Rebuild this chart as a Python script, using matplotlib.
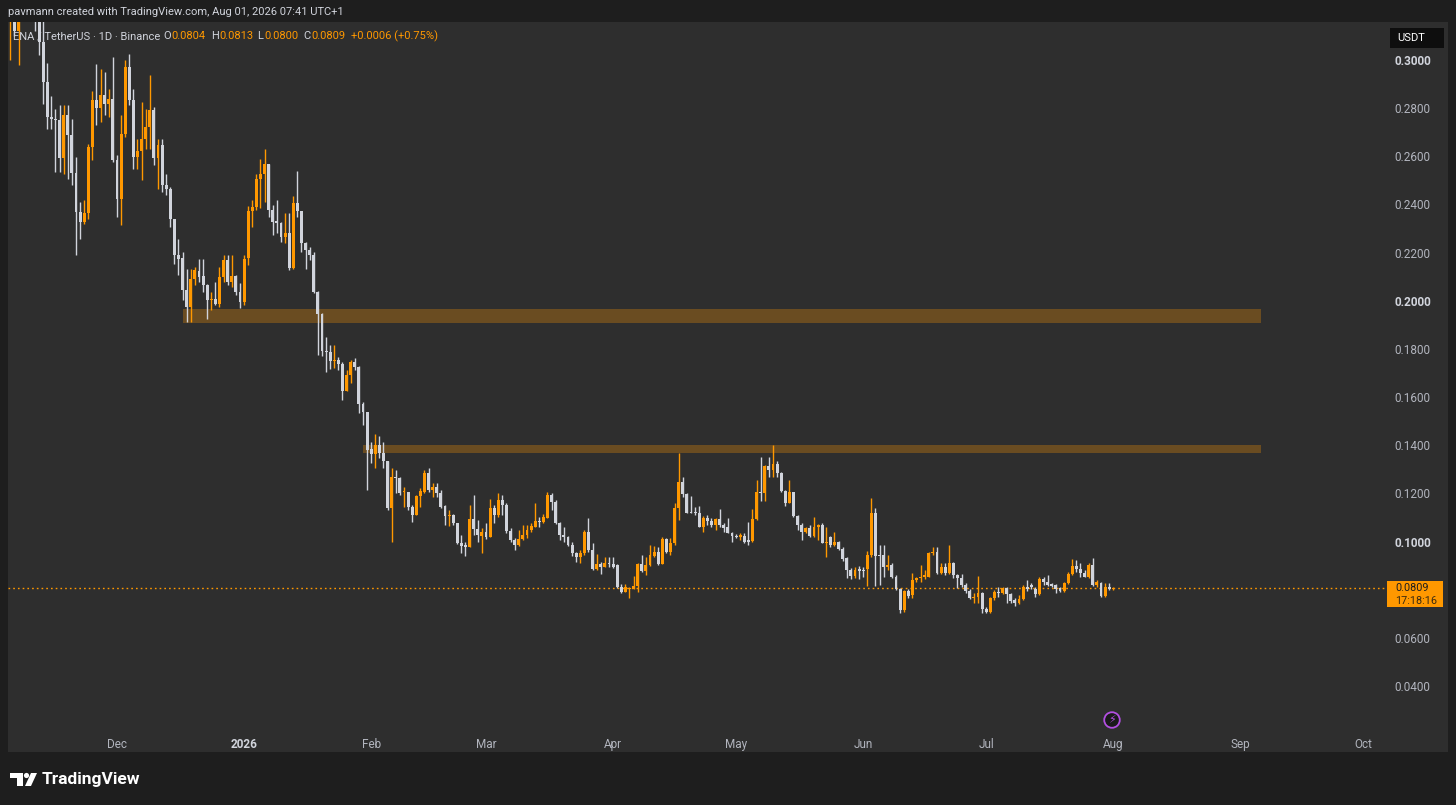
import matplotlib
matplotlib.use("Agg")
import matplotlib.pyplot as plt
import matplotlib.dates as mdates
from matplotlib.patches import Rectangle, Polygon, Circle
from matplotlib.transforms import IdentityTransform
import numpy as np
import pandas as pd

plt.rcParams['font.family'] = ['Roboto', 'DejaVu Sans']

# ENA/USDT daily candles (Nov 05 2025 .. Aug 01 2026)
first_day = "2025-11-05"

opens = [
    0.320, 0.335, 0.312, 0.332, 0.325, 0.338, 0.332, 0.318, 0.3075, 0.2909,
    0.2763, 0.2754, 0.2749, 0.2593, 0.2773, 0.2687, 0.2532, 0.2369, 0.2327, 0.2366,
    0.2639, 0.2833, 0.2801, 0.2856, 0.2819, 0.2837, 0.2583, 0.2424, 0.2694, 0.2971,
    0.2833, 0.2597, 0.2621, 0.2673, 0.2722, 0.2791, 0.2593, 0.2646, 0.2480, 0.2466,
    0.2341, 0.2189, 0.2179, 0.2043, 0.1974, 0.2092, 0.2122, 0.2102, 0.2064, 0.2002,
    0.2009, 0.1988, 0.2099, 0.2168, 0.2080, 0.2103, 0.2037, 0.1995, 0.2176, 0.2373,
    0.2391, 0.2504, 0.2525, 0.2568, 0.2377, 0.2331, 0.2325, 0.2266, 0.2280, 0.2135,
    0.2405, 0.2374, 0.2241, 0.2211, 0.2190, 0.2038, 0.1945, 0.1793, 0.1787, 0.1750,
    0.1754, 0.1738, 0.1627, 0.1692, 0.1747, 0.1727, 0.1571, 0.1540, 0.1383, 0.1364,
    0.1401, 0.1369, 0.1335, 0.1138, 0.1270, 0.1263, 0.1207, 0.1205, 0.1145, 0.1110,
    0.1189, 0.1207, 0.1284, 0.1214, 0.1228, 0.1203, 0.1148, 0.1106, 0.1110, 0.1076,
    0.0996, 0.0985, 0.0976, 0.1092, 0.1051, 0.1023, 0.1041, 0.1018, 0.1138, 0.1110,
    0.1173, 0.1152, 0.1044, 0.1006, 0.0986, 0.1009, 0.1027, 0.1048, 0.1062, 0.1087,
    0.1082, 0.1100, 0.1194, 0.1166, 0.1079, 0.1027, 0.1018, 0.0986, 0.0951, 0.0935,
    0.0951, 0.1041, 0.0965, 0.0885, 0.0907, 0.0896, 0.0913, 0.0907, 0.0902, 0.0813,
    0.0792, 0.0802, 0.0802, 0.0816, 0.0907, 0.0879, 0.0902, 0.0940, 0.0958, 0.0907,
    0.1009, 0.0958, 0.0993, 0.1138, 0.1249, 0.1196, 0.1124, 0.1124, 0.1117, 0.1062,
    0.1097, 0.1087, 0.1069, 0.1093, 0.1069, 0.1059, 0.1037, 0.1023, 0.1018, 0.1023,
    0.1006, 0.1003, 0.1093, 0.1207, 0.1200, 0.1314, 0.1297, 0.1322, 0.1286, 0.1211,
    0.1162, 0.1207, 0.1106, 0.1069, 0.1041, 0.1055, 0.1023, 0.1059, 0.1069, 0.0996,
    0.1020, 0.0986, 0.1000, 0.0968, 0.0930, 0.0882, 0.0857, 0.0885, 0.0882, 0.0888,
    0.0944, 0.1117, 0.0944, 0.0944, 0.0896, 0.0903, 0.0854, 0.0802, 0.0716, 0.0796,
    0.0778, 0.0841, 0.0847, 0.0854, 0.0854, 0.0951, 0.0958, 0.0868, 0.0896, 0.0868,
    0.0910, 0.0861, 0.0847, 0.0820, 0.0796, 0.0764, 0.0771, 0.0785, 0.0719, 0.0709,
    0.0764, 0.0792, 0.0788, 0.0806, 0.0782, 0.0758, 0.0744, 0.0760, 0.0810, 0.0820,
    0.0802, 0.0782, 0.0844, 0.0834, 0.0823, 0.0820, 0.0806, 0.0796, 0.0827, 0.0865,
    0.0899, 0.0885, 0.0871, 0.0854, 0.0903, 0.0820, 0.0830, 0.0775, 0.0810, 0.0804,
]
highs = [
    0.340, 0.345, 0.338, 0.342, 0.345, 0.350, 0.340, 0.330, 0.320, 0.2986,
    0.2850, 0.2798, 0.2812, 0.2812, 0.2812, 0.2757, 0.2597, 0.2411, 0.2417, 0.2653,
    0.2870, 0.2985, 0.2964, 0.2950, 0.2881, 0.3013, 0.2604, 0.2770, 0.2999, 0.3026,
    0.2881, 0.2673, 0.2826, 0.2798, 0.2937, 0.2805, 0.2673, 0.2673, 0.2528, 0.2473,
    0.2341, 0.2258, 0.2203, 0.2133, 0.2133, 0.2140, 0.2175, 0.2172, 0.2071, 0.2037,
    0.2078, 0.2140, 0.2189, 0.2189, 0.2190, 0.2106, 0.2072, 0.2190, 0.2394, 0.2419,
    0.2525, 0.2589, 0.2629, 0.2568, 0.2398, 0.2419, 0.2329, 0.2363, 0.2363, 0.2435,
    0.2540, 0.2374, 0.2245, 0.2225, 0.2204, 0.2042, 0.1948, 0.1851, 0.1816, 0.1816,
    0.1768, 0.1747, 0.1713, 0.1754, 0.1761, 0.1730, 0.1581, 0.1540, 0.1415, 0.1447,
    0.1439, 0.1415, 0.1336, 0.1304, 0.1297, 0.1267, 0.1228, 0.1207, 0.1152, 0.1194,
    0.1221, 0.1297, 0.1304, 0.1245, 0.1242, 0.1214, 0.1152, 0.1131, 0.1114, 0.1079,
    0.1027, 0.1000, 0.1152, 0.1194, 0.1090, 0.1055, 0.1079, 0.1175, 0.1152, 0.1200,
    0.1194, 0.1162, 0.1055, 0.1013, 0.1048, 0.1069, 0.1069, 0.1076, 0.1162, 0.1103,
    0.1114, 0.1205, 0.1203, 0.1173, 0.1083, 0.1062, 0.1023, 0.1000, 0.0958, 0.0965,
    0.1048, 0.1097, 0.0993, 0.0948, 0.0916, 0.0937, 0.0937, 0.0934, 0.0907, 0.0824,
    0.0824, 0.0813, 0.0857, 0.0913, 0.0944, 0.0937, 0.0986, 0.0982, 0.0979, 0.1018,
    0.1013, 0.1013, 0.1159, 0.1366, 0.1267, 0.1200, 0.1189, 0.1145, 0.1148, 0.1106,
    0.1110, 0.1097, 0.1100, 0.1134, 0.1076, 0.1097, 0.1041, 0.1031, 0.1034, 0.1034,
    0.1083, 0.1134, 0.1256, 0.1353, 0.1318, 0.1353, 0.1401, 0.1336, 0.1290, 0.1214,
    0.1256, 0.1207, 0.1110, 0.1076, 0.1062, 0.1069, 0.1101, 0.1073, 0.1076, 0.1062,
    0.1023, 0.1041, 0.1003, 0.0976, 0.0934, 0.0889, 0.0896, 0.0899, 0.0896, 0.0962,
    0.1180, 0.1138, 0.0986, 0.0986, 0.0944, 0.0910, 0.0861, 0.0806, 0.0799, 0.0802,
    0.0868, 0.0854, 0.0903, 0.0882, 0.0958, 0.0979, 0.0979, 0.0910, 0.0910, 0.0986,
    0.0917, 0.0865, 0.0865, 0.0827, 0.0802, 0.0785, 0.0857, 0.0792, 0.0730, 0.0771,
    0.0799, 0.0813, 0.0813, 0.0810, 0.0788, 0.0764, 0.0778, 0.0820, 0.0841, 0.0827,
    0.0813, 0.0854, 0.0854, 0.0861, 0.0827, 0.0823, 0.0810, 0.0834, 0.0875, 0.0927,
    0.0924, 0.0910, 0.0882, 0.0910, 0.0930, 0.0841, 0.0834, 0.0827, 0.0827, 0.0813,
]
lows = [
    0.300, 0.310, 0.298, 0.318, 0.320, 0.328, 0.312, 0.302, 0.2819, 0.2715,
    0.2715, 0.2535, 0.2535, 0.2528, 0.2507, 0.2480, 0.2189, 0.2258, 0.2320, 0.2341,
    0.2583, 0.2729, 0.2743, 0.2770, 0.2763, 0.2576, 0.2348, 0.2313, 0.2680, 0.2812,
    0.2549, 0.2549, 0.2500, 0.2632, 0.2632, 0.2563, 0.2466, 0.2452, 0.2438, 0.2307,
    0.2154, 0.2106, 0.2002, 0.1912, 0.1912, 0.2064, 0.2078, 0.2037, 0.1926, 0.1960,
    0.1981, 0.1974, 0.2078, 0.2064, 0.2059, 0.2023, 0.1969, 0.1981, 0.2149, 0.2305,
    0.2377, 0.2384, 0.2409, 0.2349, 0.2273, 0.2280, 0.2246, 0.2239, 0.2128, 0.2131,
    0.2349, 0.2204, 0.2131, 0.2169, 0.2031, 0.1775, 0.1771, 0.1706, 0.1715, 0.1719,
    0.1713, 0.1588, 0.1627, 0.1657, 0.1713, 0.1533, 0.1484, 0.1215, 0.1325, 0.1304,
    0.1346, 0.1304, 0.1131, 0.1000, 0.1200, 0.1194, 0.1145, 0.1131, 0.1083, 0.1110,
    0.1145, 0.1200, 0.1207, 0.1184, 0.1184, 0.1138, 0.1069, 0.1065, 0.1069, 0.0990,
    0.0954, 0.0940, 0.0976, 0.1027, 0.0999, 0.0951, 0.1009, 0.1018, 0.1076, 0.1103,
    0.1110, 0.1037, 0.0999, 0.0965, 0.0982, 0.1006, 0.1013, 0.1041, 0.1059, 0.1059,
    0.1076, 0.1097, 0.1131, 0.1073, 0.1006, 0.0999, 0.0982, 0.0940, 0.0917, 0.0912,
    0.0944, 0.0958, 0.0882, 0.0882, 0.0865, 0.0896, 0.0893, 0.0889, 0.0806, 0.0785,
    0.0792, 0.0765, 0.0802, 0.0792, 0.0875, 0.0861, 0.0899, 0.0937, 0.0903, 0.0907,
    0.0951, 0.0944, 0.0986, 0.1090, 0.1187, 0.1117, 0.1117, 0.1110, 0.1059, 0.1041,
    0.1069, 0.1062, 0.1048, 0.1062, 0.1041, 0.1034, 0.0999, 0.1013, 0.1006, 0.0996,
    0.0986, 0.0999, 0.1090, 0.1170, 0.1170, 0.1270, 0.1267, 0.1270, 0.1207, 0.1148,
    0.1159, 0.1101, 0.1048, 0.1006, 0.1037, 0.1020, 0.1020, 0.1006, 0.0993, 0.0937,
    0.0979, 0.0982, 0.0965, 0.0921, 0.0847, 0.0843, 0.0847, 0.0843, 0.0854, 0.0816,
    0.0937, 0.0816, 0.0820, 0.0854, 0.0882, 0.0847, 0.0799, 0.0702, 0.0709, 0.0764,
    0.0764, 0.0834, 0.0834, 0.0843, 0.0852, 0.0944, 0.0865, 0.0865, 0.0861, 0.0865,
    0.0847, 0.0806, 0.0813, 0.0785, 0.0760, 0.0747, 0.0744, 0.0702, 0.0705, 0.0705,
    0.0758, 0.0768, 0.0782, 0.0747, 0.0744, 0.0733, 0.0741, 0.0757, 0.0796, 0.0802,
    0.0771, 0.0778, 0.0820, 0.0816, 0.0810, 0.0788, 0.0792, 0.0792, 0.0824, 0.0861,
    0.0875, 0.0851, 0.0851, 0.0847, 0.0816, 0.0813, 0.0771, 0.0771, 0.0799, 0.0800,
]
closes = [
    0.335, 0.312, 0.332, 0.325, 0.338, 0.332, 0.318, 0.3075, 0.2909, 0.2763,
    0.2754, 0.2750, 0.2593, 0.2773, 0.2687, 0.2532, 0.2369, 0.2327, 0.2366, 0.2639,
    0.2833, 0.2801, 0.2856, 0.2819, 0.2837, 0.2583, 0.2424, 0.2694, 0.2971, 0.2833,
    0.2597, 0.2621, 0.2673, 0.2722, 0.2791, 0.2593, 0.2646, 0.2480, 0.2466, 0.2341,
    0.2189, 0.2175, 0.2043, 0.1974, 0.2092, 0.2127, 0.2099, 0.2064, 0.2002, 0.2009,
    0.1988, 0.2099, 0.2168, 0.2078, 0.2103, 0.2037, 0.1995, 0.2175, 0.2373, 0.2391,
    0.2504, 0.2525, 0.2568, 0.2377, 0.2329, 0.2325, 0.2266, 0.2280, 0.2135, 0.2405,
    0.2374, 0.2241, 0.2211, 0.2190, 0.2038, 0.1945, 0.1793, 0.1787, 0.1750, 0.1754,
    0.1738, 0.1627, 0.1692, 0.1747, 0.1727, 0.1571, 0.1540, 0.1380, 0.1364, 0.1401,
    0.1369, 0.1335, 0.1138, 0.1270, 0.1263, 0.1201, 0.1210, 0.1145, 0.1110, 0.1189,
    0.1212, 0.1284, 0.1214, 0.1228, 0.1203, 0.1145, 0.1106, 0.1110, 0.1076, 0.0996,
    0.0982, 0.0979, 0.1092, 0.1051, 0.1027, 0.1041, 0.1018, 0.1138, 0.1110, 0.1173,
    0.1152, 0.1044, 0.1006, 0.0986, 0.1009, 0.1027, 0.1048, 0.1065, 0.1087, 0.1082,
    0.1103, 0.1194, 0.1166, 0.1079, 0.1027, 0.1018, 0.0986, 0.0951, 0.0935, 0.0951,
    0.1041, 0.0965, 0.0885, 0.0907, 0.0896, 0.0913, 0.0907, 0.0896, 0.0813, 0.0792,
    0.0812, 0.0806, 0.0816, 0.0907, 0.0879, 0.0902, 0.0944, 0.0958, 0.0907, 0.1009,
    0.0958, 0.0993, 0.1138, 0.1249, 0.1196, 0.1120, 0.1120, 0.1117, 0.1062, 0.1097,
    0.1087, 0.1069, 0.1093, 0.1069, 0.1055, 0.1037, 0.1023, 0.1018, 0.1027, 0.0999,
    0.0999, 0.1093, 0.1207, 0.1200, 0.1314, 0.1297, 0.1322, 0.1286, 0.1211, 0.1162,
    0.1207, 0.1106, 0.1069, 0.1041, 0.1055, 0.1023, 0.1059, 0.1069, 0.0996, 0.0999,
    0.0986, 0.1000, 0.0968, 0.0926, 0.0882, 0.0857, 0.0882, 0.0879, 0.0879, 0.0944,
    0.1117, 0.0940, 0.0940, 0.0896, 0.0903, 0.0854, 0.0802, 0.0716, 0.0796, 0.0775,
    0.0841, 0.0847, 0.0854, 0.0861, 0.0951, 0.0958, 0.0868, 0.0896, 0.0868, 0.0910,
    0.0861, 0.0847, 0.0820, 0.0796, 0.0764, 0.0771, 0.0785, 0.0719, 0.0709, 0.0764,
    0.0792, 0.0785, 0.0806, 0.0782, 0.0755, 0.0744, 0.0760, 0.0813, 0.0802, 0.0813,
    0.0782, 0.0844, 0.0834, 0.0820, 0.0816, 0.0802, 0.0796, 0.0827, 0.0865, 0.0899,
    0.0885, 0.0871, 0.0854, 0.0903, 0.0820, 0.0834, 0.0775, 0.0810, 0.0803, 0.0809,
]

month_ticks = ["2025-12-01", "2026-01-01", "2026-02-01", "2026-03-01", "2026-04-01",
               "2026-05-01", "2026-06-01", "2026-07-01", "2026-08-01", "2026-09-01",
               "2026-10-01"]
month_labels = ["Dec", "2026", "Feb", "Mar", "Apr", "May", "Jun", "Jul", "Aug", "Sep", "Oct"]
# 0.0800 is hidden behind the last-price label on the scale
price_ticks = [0.04, 0.06, 0.10, 0.12, 0.14, 0.16, 0.18, 0.20, 0.22, 0.24,
               0.26, 0.28, 0.30]

# the two drawn supply/resistance zones
zone_bottoms = [0.1908, 0.1368]
zone_tops = [0.1966, 0.1401]
zone_starts = ["2025-12-17", "2026-01-30"]
zone_ends = ["2026-09-06", "2026-09-06"]

countdown = "17:18:16"
header = "pavmann created with TradingView.com, Aug 01, 2026 07:41 UTC+1"
symbol = "ENA / TetherUS \u00b7 1D \u00b7 Binance"

UP = '#ff9800'
DOWN = '#d1d4dc'
BG = '#1e1e1e'
PANEL = '#2e2e2e'
TXT = '#b2b5be'

W, H = 1456, 805
fig = plt.figure(figsize=(W / 100, H / 100), dpi=100, facecolor=BG)


def fx(px):
    return px / W


def fy(py):
    return 1 - py / H


# chart panel (plot + price scale + time scale)
fig.patches.append(Rectangle((fx(8), fy(752)), fx(1448) - fx(8), fy(22) - fy(752),
                             transform=fig.transFigure, facecolor=PANEL,
                             edgecolor='none', zorder=-2))

ax = fig.add_axes([fx(8), fy(730), fx(1385) - fx(8), fy(22) - fy(730)])
ax.set_facecolor(PANEL)
for s in ax.spines.values():
    s.set_visible(False)

x = mdates.date2num(pd.date_range(first_day, periods=len(closes)))
o = np.array(opens)
h = np.array(highs)
l = np.array(lows)
c = np.array(closes)
colors = np.where(c >= o, UP, DOWN)

for zb, zt, zs, ze in zip(zone_bottoms, zone_tops, zone_starts, zone_ends):
    x0 = mdates.date2num(pd.Timestamp(zs))
    x1 = mdates.date2num(pd.Timestamp(ze))
    ax.add_patch(Rectangle((x0, zb), x1 - x0, zt - zb, facecolor='#6a4c21',
                           edgecolor='none', zorder=1))

ax.axhline(c[-1], color=UP, linestyle=(0, (1.2, 2.2)), linewidth=1.0, zorder=2)

ax.vlines(x, l, h, colors=colors, linewidth=1.0, zorder=3)
body_lo = np.minimum(o, c)
body_h = np.maximum(np.abs(c - o), 0.0004)
ax.bar(x, body_h, bottom=body_lo, width=0.72, color=colors, linewidth=0, zorder=4)

ax.set_xlim(x[0] - 0.585, x[0] + 335.27)
ax.set_ylim(0.02176, 0.31578)

ax.yaxis.tick_right()
ax.set_yticks(price_ticks)
ax.set_yticklabels([f"{p:.4f}" for p in price_ticks])
ax.tick_params(axis='y', length=0, pad=7, labelsize=8.5, labelcolor=TXT)
for p, lab in zip(price_ticks, ax.get_yticklabels()):
    if abs(p * 10 - round(p * 10)) < 1e-9:
        lab.set_fontweight('bold')
        lab.set_color('#d1d4dc')

ax.set_xticks(mdates.date2num(pd.to_datetime(month_ticks)))
ax.set_xticklabels(month_labels)
ax.tick_params(axis='x', length=0, pad=6, labelsize=8.5, labelcolor=TXT)
ax.get_xticklabels()[1].set_fontweight('bold')
ax.get_xticklabels()[1].set_color('#d1d4dc')

# header and legend line
fig.text(fx(8), fy(12), header, color='#d1d4dc', fontsize=8, va='center')
fig.text(fx(13), fy(36), symbol, color='#d1d4dc', fontsize=8, va='center')
chg = c[-1] - c[-2]
pct = chg / c[-2] * 100
legend = [("O", 163, 171, f"{o[-1]:.4f}"), ("H", 211, 219, f"{h[-1]:.4f}"),
          ("L", 257, 264, f"{l[-1]:.4f}"), ("C", 303, 311, f"{c[-1]:.4f}")]
for key, kx, vx, val in legend:
    fig.text(fx(kx), fy(36), key, color='#d1d4dc', fontsize=8, va='center')
    fig.text(fx(vx), fy(36), val, color=UP, fontsize=8, va='center')
fig.text(fx(351), fy(36), f"{chg:+.4f} ({pct:+.2f}%)", color=UP, fontsize=8, va='center')

# currency box
fig.patches.append(Rectangle((fx(1390), fy(48)), fx(1444) - fx(1390), fy(28) - fy(48),
                             transform=fig.transFigure, facecolor='#0e0e0e',
                             edgecolor='none', zorder=5))
fig.text(fx(1397), fy(38), "USDT", color='#ffffff', fontsize=8, va='center', zorder=6)

# last price label
fig.patches.append(Rectangle((fx(1387), fy(607)), fx(1443) - fx(1387), fy(581) - fy(607),
                             transform=fig.transFigure, facecolor=UP,
                             edgecolor='none', zorder=5))
fig.text(fx(1395), fy(587.5), f"{c[-1]:.4f}", color='#1e1e1e', fontsize=7.8,
         va='center', zorder=6)
fig.text(fx(1395), fy(600.5), countdown, color='#3a2a10', fontsize=7.8,
         va='center', zorder=6)

# lightning marker on the time scale
fig.text(fx(1112), fy(720), "\u26a1", color='#b24fe0', fontsize=8, ha='center',
         va='center', family=['DejaVu Sans'],
         bbox=dict(boxstyle='circle,pad=0.25', facecolor='#1a1a1a', edgecolor='#b24fe0',
                   linewidth=1.3))

# TradingView footer logo
idt = IdentityTransform()
fig.patches.append(Polygon([(10, H - 773), (23, H - 773), (23, H - 786), (17, H - 786),
                            (17, H - 778), (10, H - 778)], closed=True,
                           transform=idt, facecolor='#ffffff', edgecolor='none'))
fig.patches.append(Circle((26.5, H - 775.5), 2.6, transform=idt, facecolor='#ffffff',
                          edgecolor='none'))
fig.patches.append(Polygon([(25, H - 786), (31, H - 786), (37, H - 773), (31, H - 773)],
                           closed=True, transform=idt, facecolor='#ffffff',
                           edgecolor='none'))
fig.text(fx(42), fy(779.5), "TradingView", color='#ffffff', fontsize=12.5,
         fontweight='bold', va='center')

fig.savefig("out.png", dpi=100, facecolor=BG)
